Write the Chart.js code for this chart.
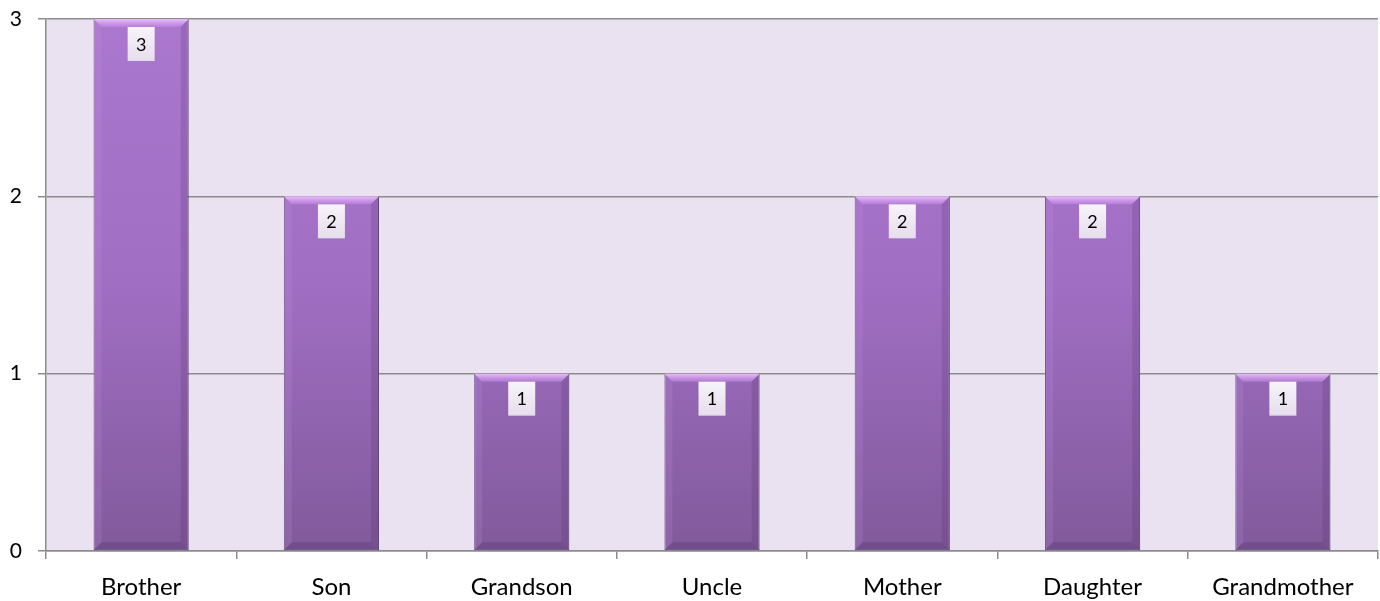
<!DOCTYPE html>
<html>
<head>
<meta charset="utf-8">
<script src="https://cdn.jsdelivr.net/npm/chart.js@4.4.1/dist/chart.umd.min.js"></script>
<style>
    html, body {
        margin: 0;
        padding: 0;
        background: #FFFFFF;
    }

    #wrap {
        width: 1380px;
        height: 601px;
        position: relative;
    }
</style>
</head>
<body>
<div id="wrap">
    <canvas id="relChart"></canvas>
</div>
<script>
const categories = [
    "Brother",
    "Son",
    "Grandson",
    "Uncle",
    "Mother",
    "Daughter",
    "Grandmother"
];

const counts = [3, 2, 1, 1, 2, 2, 1];

const yTicks = [0, 1, 2, 3];

const colors = {
    plotBg: "#EAE2F0",
    grid: "#8C8C8C",
    barTop: "#AB77CF",
    barMid: "#A06EC3",
    barBottom: "#815A9B",
    barEdge: "#6A4F80",
    text: "#000000"
};

function barGradient(context) {
    const chart = context.chart;
    const area = chart.chartArea;

    if (!area) {
        return colors.barMid;
    }

    const g = chart.ctx.createLinearGradient(0, area.top, 0, area.bottom);
    g.addColorStop(0, colors.barTop);
    g.addColorStop(0.5, colors.barMid);
    g.addColorStop(1, colors.barBottom);
    return g;
}

// plot area fill
const plotBackground = {
    id: "plotBackground",
    beforeDraw(chart) {
        const { ctx, chartArea } = chart;
        ctx.save();
        ctx.fillStyle = colors.plotBg;
        ctx.fillRect(chartArea.left, chartArea.top, chartArea.right - chartArea.left, chartArea.bottom - chartArea.top);
        ctx.restore();
    }
};

// bevel look on each bar + value boxes
const bevelAndLabels = {
    id: "bevelAndLabels",
    afterDatasetsDraw(chart) {
        const ctx = chart.ctx;
        const meta = chart.getDatasetMeta(0);
        const b = 8;

        meta.data.forEach((bar, i) => {
            const left = bar.x - bar.width / 2;
            const right = bar.x + bar.width / 2;
            const top = bar.y;
            const bottom = bar.base;

            ctx.save();

            // top bevel
            const tg = ctx.createLinearGradient(0, top, 0, top + b);
            tg.addColorStop(0, "rgba(238, 195, 255, 0.95)");
            tg.addColorStop(1, "rgba(195, 135, 228, 0.6)");
            ctx.fillStyle = tg;
            ctx.beginPath();
            ctx.moveTo(left, top);
            ctx.lineTo(right, top);
            ctx.lineTo(right - b, top + b);
            ctx.lineTo(left + b, top + b);
            ctx.closePath();
            ctx.fill();

            // left bevel
            ctx.fillStyle = "rgba(200, 150, 230, 0.18)";
            ctx.beginPath();
            ctx.moveTo(left, top);
            ctx.lineTo(left + b, top + b);
            ctx.lineTo(left + b, bottom - b);
            ctx.lineTo(left, bottom);
            ctx.closePath();
            ctx.fill();

            // right bevel
            ctx.fillStyle = "rgba(70, 40, 95, 0.18)";
            ctx.beginPath();
            ctx.moveTo(right, top);
            ctx.lineTo(right - b, top + b);
            ctx.lineTo(right - b, bottom - b);
            ctx.lineTo(right, bottom);
            ctx.closePath();
            ctx.fill();

            // bottom bevel
            ctx.fillStyle = "rgba(60, 30, 85, 0.22)";
            ctx.beginPath();
            ctx.moveTo(left, bottom);
            ctx.lineTo(left + b, bottom - b);
            ctx.lineTo(right - b, bottom - b);
            ctx.lineTo(right, bottom);
            ctx.closePath();
            ctx.fill();

            // value box
            const bw = 27;
            const bh = 34;
            const bx = bar.x - bw / 2;
            const by = top + 8;
            const lg = ctx.createLinearGradient(0, by, 0, by + bh);
            lg.addColorStop(0, "#F7F4F9");
            lg.addColorStop(1, "#E6DDEC");
            ctx.fillStyle = lg;
            ctx.fillRect(bx, by, bw, bh);

            ctx.fillStyle = colors.text;
            ctx.font = "18px Lato, sans-serif";
            ctx.textAlign = "center";
            ctx.textBaseline = "middle";
            ctx.fillText(String(counts[i]), bar.x, by + bh / 2 + 1);

            ctx.restore();
        });
    }
};

Chart.defaults.font.family = "Lato, sans-serif";
Chart.defaults.color = colors.text;

new Chart(document.getElementById("relChart"), {
    type: "bar",
    data: {
        labels: categories,
        datasets: [{
            data: counts,
            backgroundColor: barGradient,
            borderColor: colors.barEdge,
            borderWidth: 1,
            borderSkipped: false,
            barPercentage: 0.5,
            categoryPercentage: 1
        }]
    },
    options: {
        responsive: true,
        maintainAspectRatio: false,
        animation: false,
        layout: {
            padding: { top: 19, right: 2, bottom: 0, left: 4 }
        },
        plugins: {
            legend: { display: false },
            tooltip: { enabled: false }
        },
        scales: {
            x: {
                offset: true,
                afterFit(scale) {
                    scale.height = 50;
                },
                grid: {
                    offset: true,
                    drawOnChartArea: false,
                    drawTicks: true,
                    tickLength: 8,
                    color: colors.grid,
                    lineWidth: 1.5
                },
                border: {
                    color: colors.grid,
                    width: 1.5
                },
                ticks: {
                    font: { size: 24 },
                    color: colors.text,
                    padding: 14,
                    maxRotation: 0
                }
            },
            y: {
                min: 0,
                max: 3,
                afterBuildTicks(scale) {
                    scale.ticks = yTicks.map(v => ({ value: v }));
                },
                afterFit(scale) {
                    scale.width = 42;
                    scale.paddingTop = 0;
                    scale.paddingBottom = 0;
                },
                grid: {
                    color: colors.grid,
                    lineWidth: 1.5,
                    tickLength: 8
                },
                border: {
                    color: colors.grid,
                    width: 1.5
                },
                ticks: {
                    font: { size: 21 },
                    color: colors.text,
                    padding: 16
                }
            }
        }
    },
    plugins: [plotBackground, bevelAndLabels]
});
</script>
</body>
</html>
